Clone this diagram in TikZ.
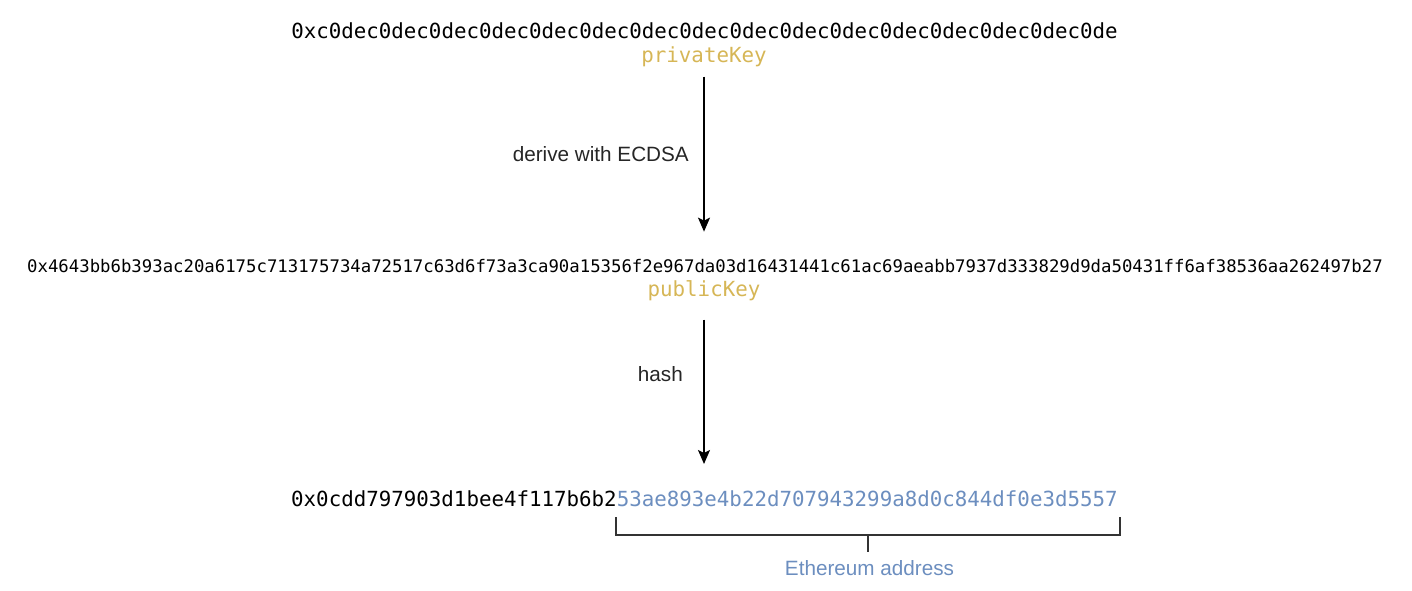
\documentclass[tikz,border=0pt]{standalone}
\usepackage{fontspec}
\setmainfont{Liberation Sans}
\newfontfamily\hexfont{DejaVu Sans Mono}
\usetikzlibrary{arrows.meta}
\definecolor{keygold}{HTML}{D6B656}
\definecolor{addrblue}{HTML}{6C8EBF}
\tikzset{
  hexbig/.style={inner sep=0pt, anchor=base, font=\hexfont\fontsize{20.8}{24}\selectfont},
  hexsmall/.style={inner sep=0pt, anchor=base, font=\hexfont\fontsize{17.32}{20}\selectfont},
  keylbl/.style={inner sep=0pt, anchor=base, text=keygold, font=\hexfont\fontsize{20.8}{24}\selectfont},
  steplbl/.style={inner sep=0pt, anchor=base east, text=black!85, font=\fontsize{20.7}{24}\selectfont},
  arr/.style={line width=1.5pt, -{Stealth[length=14pt,width=12pt,inset=3pt]}},
  bracketline/.style={line width=1.4pt, draw=black!80}
}
\begin{document}
\begin{tikzpicture}[x=1pt,y=-1pt]
\useasboundingbox (0,0) rectangle (1412,590);
\node[hexbig] (privhex) at (704.5,38.5) {0xc0dec0dec0dec0dec0dec0dec0dec0dec0dec0dec0dec0dec0dec0dec0dec0de};
\node[keylbl] (privlbl) at (704,62) {privateKey};
\node[hexsmall] (pubhex) at (705,272) {0x4643bb6b393ac20a6175c713175734a72517c63d6f73a3ca90a15356f2e967da03d16431441c61ac69aeabb7937d333829d9da50431ff6af38536aa262497b27};
\node[keylbl] (publbl) at (704,296) {publicKey};
\node[hexbig, anchor=base west] (addr) at (291,506.5) {0x0cdd797903d1bee4f117b6b2\textcolor{addrblue}{53ae893e4b22d707943299a8d0c844df0e3d5557}};
\node[steplbl] (derivelbl) at (689,161.5) {derive with ECDSA};
\node[steplbl] (hashlbl) at (683,381) {hash};
\node[inner sep=0pt, anchor=base, text=addrblue, font=\fontsize{20.7}{24}\selectfont] (ethlbl) at (869.5,575) {Ethereum address};

\draw[arr, shorten <=10pt, shorten >=27pt] (privlbl.south) -- (privlbl.south |- pubhex.north);
\draw[arr, shorten <=19pt, shorten >=26.5pt] (publbl.south) -- (publbl.south |- addr.north);

\coordinate (bl) at (616,517);
\coordinate (br) at (1120,517);
\coordinate (bm) at (868,535);
\draw[bracketline] (bl) -- (bl |- bm) -- (br |- bm) -- (br);
\draw[bracketline, shorten >=8pt] (bm) -- (bm |- ethlbl.north);
\end{tikzpicture}
\end{document}
